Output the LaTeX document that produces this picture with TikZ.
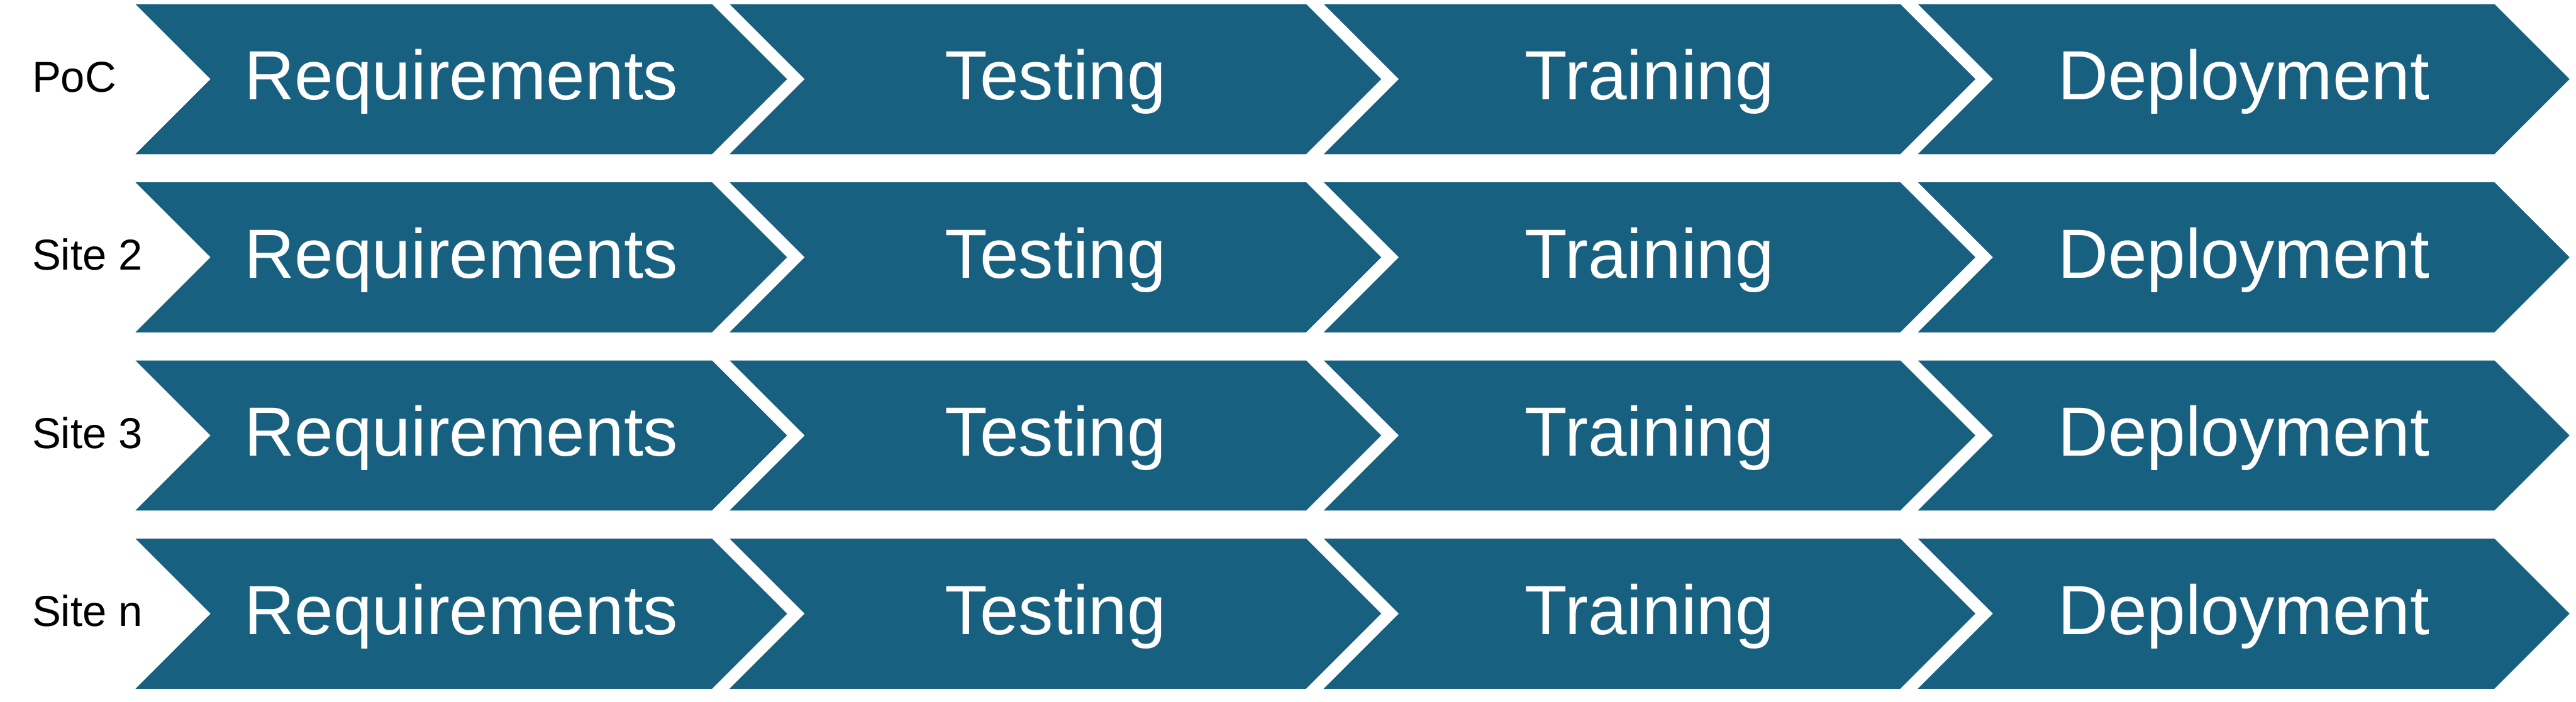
\documentclass[tikz,border=0pt]{standalone}
\usepackage{fontspec}
\setmainfont{Liberation Sans}
\usetikzlibrary{shapes.symbols, positioning}
\definecolor{stageblue}{RGB}{24,96,128}

\begin{document}
\begin{tikzpicture}[every node/.style={inner sep=0pt},
    stage/.style={signal, signal to=east, signal from=west, signal pointer angle=90,
        fill=stageblue, text=white, minimum height=2.56cm, minimum width=11.11cm,
        text height=0.95cm, text depth=0.25cm, font=\fontsize{33.8}{40}\selectfont},
    site/.style={anchor=base west, font=\fontsize{21}{25}\selectfont}]
    \useasboundingbox (0, 0) rectangle (43.92, 11.97);

    \node (LA) at (0.54, 10.40) [site] {PoC};
    \node (A1) at (7.865, 10.62) [stage] {Requirements};
    \node (A2) at (17.995, 10.62) [stage] {Testing};
    \node (A3) at (28.125, 10.62) [stage] {Training};
    \node (A4) at (38.255, 10.62) [stage] {Deployment};

    \node (LB) at (0.54, 7.36) [site] {Site 2};
    \node (B1) at (7.865, 7.58) [stage] {Requirements};
    \node (B2) at (17.995, 7.58) [stage] {Testing};
    \node (B3) at (28.125, 7.58) [stage] {Training};
    \node (B4) at (38.255, 7.58) [stage] {Deployment};

    \node (LC) at (0.54, 4.32) [site] {Site 3};
    \node (C1) at (7.865, 4.54) [stage] {Requirements};
    \node (C2) at (17.995, 4.54) [stage] {Testing};
    \node (C3) at (28.125, 4.54) [stage] {Training};
    \node (C4) at (38.255, 4.54) [stage] {Deployment};

    \node (LD) at (0.54, 1.28) [site] {Site n};
    \node (D1) at (7.865, 1.50) [stage] {Requirements};
    \node (D2) at (17.995, 1.50) [stage] {Testing};
    \node (D3) at (28.125, 1.50) [stage] {Training};
    \node (D4) at (38.255, 1.50) [stage] {Deployment};
\end{tikzpicture}
\end{document}
